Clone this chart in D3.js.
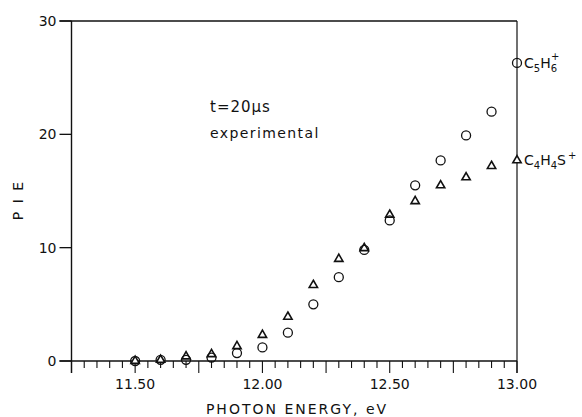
<!DOCTYPE html>
<html>
<head>
<meta charset="utf-8">
<script src="https://cdn.jsdelivr.net/npm/d3@7"></script>
<style>
  body { margin: 0; background: #fff; }
  svg text { font-family: "DejaVu Sans", sans-serif; fill: #111; }
</style>
</head>
<body>
<svg></svg>
<script>
const size = {w: 582, h: 417};
const svg = d3.select('svg').attr('width', size.w).attr('height', size.h);

// data
const energy = [11.5, 11.6, 11.7, 11.8, 11.9, 12.0, 12.1, 12.2, 12.3, 12.4, 12.5, 12.6, 12.7, 12.8, 12.9, 13.0];
const c5h6 = [0.0, 0.1, 0.1, 0.3, 0.7, 1.2, 2.5, 5.0, 7.4, 9.8, 12.4, 15.5, 17.7, 19.9, 22.0, 26.3];
const c4h4s = [0.0, 0.1, 0.4, 0.6, 1.3, 2.3, 3.9, 6.7, 9.0, 9.95, 12.9, 14.1, 15.5, 16.2, 17.2, 17.7];
const yTicks = [0, 10, 20, 30];
const xLabels = [11.5, 12.0, 12.5, 13.0];

const x = d3.scaleLinear().domain([11.25, 13.0]).range([71.5, 517]);
const y = d3.scaleLinear().domain([0, 30]).range([361, 21]);

const ink = '#111';
const axisG = svg.append('g').attr('stroke', ink).attr('fill', 'none');

// frame: left axis (runs a bit below the x axis), top, right
axisG.append('line').attr('x1', x(11.25)).attr('x2', x(11.25))
    .attr('y1', y(30)).attr('y2', y(0) + 12).attr('stroke-width', 1.4);
axisG.append('line').attr('x1', x(11.25) - 12).attr('x2', x(13.0))
    .attr('y1', y(30)).attr('y2', y(30)).attr('stroke-width', 1.4);
axisG.append('line').attr('x1', x(13.0)).attr('x2', x(13.0))
    .attr('y1', y(30)).attr('y2', y(0) + 12).attr('stroke-width', 1.2);
axisG.append('line').attr('x1', x(11.25) - 12).attr('x2', x(13.0))
    .attr('y1', y(0)).attr('y2', y(0)).attr('stroke-width', 1.6);

// y ticks
axisG.selectAll('.yt').data(yTicks).enter().append('line')
    .attr('x1', x(11.25) - 12).attr('x2', x(11.25))
    .attr('y1', d => y(d)).attr('y2', d => y(d)).attr('stroke-width', 1.3);
svg.selectAll('.yl').data(yTicks).enter().append('text')
    .attr('x', x(11.25) - 15).attr('y', d => y(d) + 5)
    .attr('text-anchor', 'end').style('font-size', '14px')
    .text(d => d);

// x ticks: minor every 0.05, long every 0.25
const minor = d3.range(0, 36).map(i => 11.25 + i * 0.05);
axisG.selectAll('.xt').data(minor).enter().append('line')
    .attr('x1', d => x(d)).attr('x2', d => x(d))
    .attr('y1', y(0))
    .attr('y2', (d, i) => y(0) + (i % 5 === 0 ? 12 : 7))
    .attr('stroke-width', 1.1);
svg.selectAll('.xl').data(xLabels).enter().append('text')
    .attr('x', d => x(d)).attr('y', 389)
    .attr('text-anchor', 'middle').style('font-size', '14px')
    .text(d => d.toFixed(2));

// axis titles
svg.append('text').attr('x', 297).attr('y', 414)
    .attr('text-anchor', 'middle').style('font-size', '14px')
    .style('letter-spacing', '2px')
    .text('PHOTON ENERGY, eV');
svg.append('text').attr('transform', 'translate(23,200) rotate(-90)')
    .attr('text-anchor', 'middle').style('font-size', '14px')
    .style('letter-spacing', '2px')
    .text('P I E');

// annotation
svg.append('text').attr('x', 210).attr('y', 112).style('font-size', '15px')
    .style('letter-spacing', '1px').text('t=20\u03bcs');
svg.append('text').attr('x', 210).attr('y', 138).style('font-size', '14px')
    .style('letter-spacing', '1.4px').text('experimental');

// markers
const pts = energy.map((e, i) => ({e: e, a: c5h6[i], b: c4h4s[i]}));
const tri = d3.symbol().type(d3.symbolTriangle).size(30);

svg.append('g').selectAll('path').data(pts).enter().append('path')
    .attr('d', tri)
    .attr('transform', d => `translate(${x(d.e)},${y(d.b)})`)
    .attr('fill', '#fff').attr('stroke', ink).attr('stroke-width', 1.6);

svg.append('g').selectAll('circle').data(pts).enter().append('circle')
    .attr('cx', d => x(d.e)).attr('cy', d => y(d.a)).attr('r', 4.5)
    .attr('fill', 'none').attr('stroke', ink).attr('stroke-width', 1.3);

// species labels at the right edge
const lab1 = svg.append('text').attr('x', x(13.0) + 7).attr('y', y(c5h6[15]) + 5)
    .style('font-size', '14px');
lab1.append('tspan').text('C');
lab1.append('tspan').attr('dy', 4).style('font-size', '10px').text('5');
lab1.append('tspan').attr('dy', -4).text('H');
lab1.append('tspan').attr('dy', 4).style('font-size', '10px').text('6');
lab1.append('tspan').attr('dx', -6).attr('dy', -12).style('font-size', '10px').text('+');

const lab2 = svg.append('text').attr('x', x(13.0) + 7).attr('y', y(c4h4s[15]) + 5)
    .style('font-size', '14px');
lab2.append('tspan').text('C');
lab2.append('tspan').attr('dy', 4).style('font-size', '10px').text('4');
lab2.append('tspan').attr('dy', -4).text('H');
lab2.append('tspan').attr('dy', 4).style('font-size', '10px').text('4');
lab2.append('tspan').attr('dy', -4).text('S');
lab2.append('tspan').attr('dx', 2).attr('dy', -6).style('font-size', '10px').text('+');
</script>
</body>
</html>
